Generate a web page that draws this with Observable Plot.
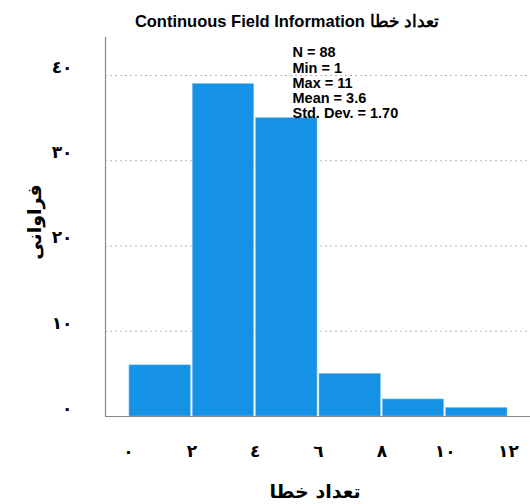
<!DOCTYPE html>
<html>
<head>
<meta charset="utf-8">
<script src="https://cdn.jsdelivr.net/npm/d3@7"></script>
<script src="https://cdn.jsdelivr.net/npm/@observablehq/plot@0.6"></script>
<style>
  body { margin: 0; background: #fff; }
  #wrap { position: relative; width: 530px; height: 504px; overflow: hidden; }
  .lbl { position: absolute; white-space: nowrap; color: #000; }
  #title { left: 0; width: 574px; text-align: center; top: 12px; font: bold 16.5px "Liberation Sans", Arial, sans-serif; }
  #xlabel { left: 105px; width: 420px; text-align: center; top: 480px; font: bold 19px "DejaVu Serif", "DejaVu Sans", serif; }
  #ylabel { left: 34px; top: 222px; transform: translate(-50%, -50%) rotate(-90deg); font: bold 19px "DejaVu Serif", "DejaVu Sans", serif; }
</style>
</head>
<body>
<div id="wrap">
  <div id="chart"></div>
  <div class="lbl" id="title">Continuous Field Information تعداد خطا</div>
  <div class="lbl" id="ylabel">فراوانی</div>
  <div class="lbl" id="xlabel">تعداد خطا</div>
</div>
<script>
const binStart = [0, 2, 4, 6, 8, 10];
const binEnd = [2, 4, 6, 8, 10, 12];
const counts = [6, 39, 35, 5, 2, 1];
const xTicks = [0, 2, 4, 6, 8, 10, 12];
const xTickLabels = ["٠", "٢", "٤", "٦", "٨", "١٠", "١٢"];
const yTicks = [0, 10, 20, 30, 40];
const yTickLabels = ["٠", "١٠", "٢٠", "٣٠", "٤٠"];
const gridValues = [10, 20, 30, 40];
const statsLines = ["N = 88", "Min = 1", "Max = 11", "Mean = 3.6", "Std. Dev. = 1.70"];

const bins = binStart.map((s, i) => ({x1: s, x2: binEnd[i], y: counts[i]}));
const xmin = -0.726, xmax = 12.695;

const chart = Plot.plot({
  width: 530,
  height: 504,
  marginTop: 37,
  marginLeft: 105,
  marginRight: 0,
  marginBottom: 88,
  style: {fontFamily: "'DejaVu Sans', sans-serif", background: "#fff", color: "#000"},
  x: {domain: [xmin, xmax]},
  y: {domain: [0, 44.46]},
  marks: [
    Plot.ruleY(gridValues, {stroke: "#b5b5b5", strokeDasharray: "2,3", strokeWidth: 1}),
    Plot.rectY(bins, {x1: "x1", x2: "x2", y: "y", fill: "#1591e6", stroke: "#7cc0f0", strokeWidth: 0.6, insetLeft: 1, insetRight: 1}),
    Plot.ruleY([0], {stroke: "#888", strokeWidth: 1.2}),
    Plot.ruleX([xmin], {stroke: "#888", strokeWidth: 1.2}),
    Plot.axisY({ticks: yTicks, tickFormat: d => yTickLabels[yTicks.indexOf(d)], tickSize: 0, tickPadding: 33, dy: -8, fontSize: 17, fontWeight: "bold", label: null}),
    Plot.axisX({ticks: xTicks, tickFormat: d => xTickLabels[xTicks.indexOf(d)], tickSize: 0, tickPadding: 28, fontSize: 17, fontWeight: "bold", label: null}),
    Plot.text([statsLines.join("\n")], {frameAnchor: "top-left", textAnchor: "start", lineAnchor: "top", dx: 187, dy: 9, lineHeight: 1.05, fontSize: 14.5, fontWeight: "bold", fontFamily: "'Liberation Sans', Arial, sans-serif", fill: "#000"})
  ]
});
document.getElementById("chart").appendChild(chart);
</script>
</body>
</html>
